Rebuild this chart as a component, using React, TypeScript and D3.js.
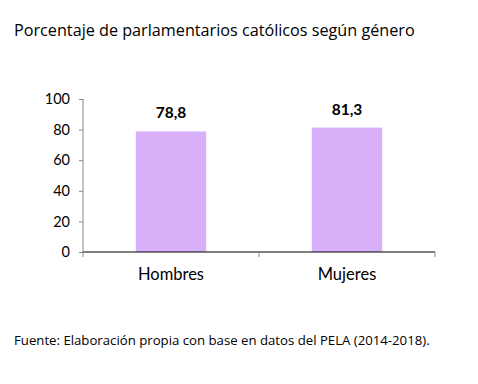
import React, { useEffect, useRef } from 'react';
import * as d3 from 'd3';

const categories = ['Hombres', 'Mujeres'];
const values = [78.8, 81.3];
const valueLabels = ['78,8', '81,3'];
const yTicks = [0, 20, 40, 60, 80, 100];

const App: React.FC = () => {
  const svgRef = useRef<SVGSVGElement>(null);

  useEffect(() => {
    if (!svgRef.current) return;
    const svg = d3.select(svgRef.current);
    svg.selectAll('*').remove();

    const left = 83;
    const right = 435;
    const top = 99;
    const bottom = 252;

    const x = d3.scaleBand<string>().domain(categories).range([left, right]).paddingInner(0.6).paddingOuter(0.3);
    const y = d3.scaleLinear().domain([0, 100]).range([bottom, top]);

    // title
    svg.append('text')
      .attr('x', 14)
      .attr('y', 36)
      .attr('font-family', 'Open Sans, sans-serif')
      .attr('font-size', 16.2)
      .attr('fill', '#000')
      .text('Porcentaje de parlamentarios católicos según género');

    // bars
    svg.selectAll('rect.bar')
      .data(values)
      .enter()
      .append('rect')
      .attr('class', 'bar')
      .attr('x', (_, i) => x(categories[i])!)
      .attr('y', d => y(d))
      .attr('width', x.bandwidth())
      .attr('height', d => y(0) - y(d))
      .attr('fill', '#D8B0FA');

    // value labels
    svg.selectAll('text.val')
      .data(values)
      .enter()
      .append('text')
      .attr('class', 'val')
      .attr('x', (_, i) => x(categories[i])! + x.bandwidth() / 2)
      .attr('y', d => y(d) - 13)
      .attr('text-anchor', 'middle')
      .attr('font-family', 'Lato, sans-serif')
      .attr('font-weight', 'bold')
      .attr('font-size', 15.5)
      .text((_, i) => valueLabels[i]);

    // y axis
    const yAxis = svg.append('g').attr('transform', `translate(${left},0)`)
      .call(d3.axisLeft(y).tickValues(yTicks).tickSize(4).tickPadding(9).tickFormat(d3.format('d')));
    yAxis.select('.domain').attr('stroke', '#888').attr('d', `M0,${top}V${bottom}`);
    yAxis.selectAll('.tick line').attr('stroke', '#888');
    yAxis.selectAll('text')
      .attr('font-family', 'Lato, sans-serif')
      .attr('font-size', 14.5)
      .attr('fill', '#000');

    // x axis
    const xAxisG = svg.append('g').attr('transform', `translate(0,${bottom})`);
    xAxisG.append('line')
      .attr('x1', left).attr('x2', right)
      .attr('stroke', '#000').attr('stroke-width', 1.2);
    const step = (right - left) / categories.length;
    d3.range(categories.length + 1).forEach(i => {
      xAxisG.append('line')
        .attr('x1', left + i * step).attr('x2', left + i * step)
        .attr('y1', 0).attr('y2', 5)
        .attr('stroke', '#888');
    });
    xAxisG.selectAll('text.cat')
      .data(categories)
      .enter()
      .append('text')
      .attr('class', 'cat')
      .attr('x', d => x(d)! + x.bandwidth() / 2)
      .attr('y', 28)
      .attr('text-anchor', 'middle')
      .attr('font-family', 'Lato, sans-serif')
      .attr('font-size', 16.5)
      .text(d => d);

    // source
    svg.append('text')
      .attr('x', 14)
      .attr('y', 345)
      .attr('font-family', 'Open Sans, sans-serif')
      .attr('font-size', 13.2)
      .text('Fuente: Elaboración propia con base en datos del PELA (2014-2018).');
  }, []);

  return (
    <svg
      ref={svgRef}
      width={478}
      height={384}
      style={{ position: 'absolute', left: 0, top: 0, background: '#fff' }}
    />
  );
};

export default App;
